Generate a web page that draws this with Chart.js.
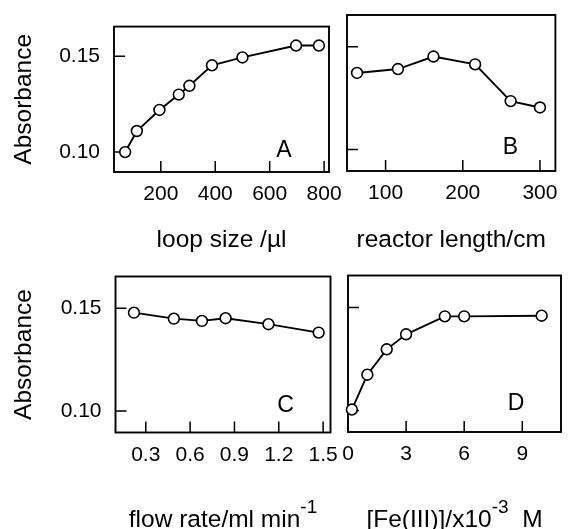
<!DOCTYPE html>
<html><head><meta charset="utf-8">
<script src="https://cdn.jsdelivr.net/npm/chart.js@4.4.1/dist/chart.umd.min.js"></script>
<style>
html,body{margin:0;padding:0;background:#fff;}
#wrap{position:relative;width:568px;height:529px;overflow:hidden;background:#fff;}
canvas{position:absolute;left:0;top:0;}
</style></head><body>
<div id="wrap">
<canvas id="cA" width="568" height="529"></canvas>
<canvas id="cB" width="568" height="529"></canvas>
<canvas id="cC" width="568" height="529"></canvas>
<canvas id="cD" width="568" height="529"></canvas>
</div>
<script>
// ---- data ----
const loopSize      = [69, 112, 195, 266, 305, 388, 500, 697, 781];
const absLoop       = [0.100, 0.111, 0.122, 0.130, 0.1346, 0.1453, 0.1494, 0.1556, 0.1556];
const reactorLength = [63, 116, 162, 216, 262, 300];
const absReactor    = [0.1373, 0.1392, 0.1453, 0.1415, 0.1236, 0.1205];
const flowRate      = [0.22, 0.49, 0.68, 0.84, 1.13, 1.47];
const absFlow       = [0.1479, 0.1450, 0.1439, 0.1452, 0.1423, 0.1382];
const feConc        = [0.2, 1.0, 2.0, 3.0, 5.0, 6.0, 10.0];
const absFe         = [0.1005, 0.1174, 0.1297, 0.1370, 0.1457, 0.1457, 0.1460];

const yTickValues = [0.10, 0.15];
const xTicksA = [200, 400, 600, 800];
const xTicksB = [100, 200, 300];
const xTicksC = [0.3, 0.6, 0.9, 1.2, 1.5];
const xTicksD = [0, 3, 6, 9];

const yTitle = 'Absorbance';
const panelLetters = ['A', 'B', 'C', 'D'];

const FONT = "'Liberation Sans', Arial, Helvetica, sans-serif";
const TICK_SIZE = 21, TITLE_SIZE = 24.5, LETTER_SIZE = 23;

function panelPlugin(cfg) {
  return {
    id: 'panel' + cfg.letter,
    beforeDatasetsDraw(chart) {
      const ctx = chart.ctx, a = chart.chartArea;
      const xs = chart.scales.x, ys = chart.scales.y;
      ctx.save();
      ctx.strokeStyle = '#000';
      ctx.lineWidth = 1.9;
      ctx.strokeRect(a.left, a.top, a.right - a.left, a.bottom - a.top);
      ctx.lineWidth = 1.5;
      ctx.beginPath();
      cfg.xTicks.forEach(v => {
        const px = xs.getPixelForValue(v);
        ctx.moveTo(px, a.bottom); ctx.lineTo(px, a.bottom - 11);
      });
      yTickValues.forEach(v => {
        const py = ys.getPixelForValue(v);
        ctx.moveTo(a.left, py); ctx.lineTo(a.left + 11, py);
      });
      ctx.stroke();
      ctx.restore();
    },
    afterDraw(chart) {
      const ctx = chart.ctx, a = chart.chartArea;
      ctx.save();
      ctx.fillStyle = '#000';
      // panel letter
      ctx.font = LETTER_SIZE + 'px ' + FONT;
      ctx.textAlign = 'center';
      ctx.textBaseline = 'alphabetic';
      ctx.fillText(cfg.letter, a.right - cfg.letterDx, a.bottom - cfg.letterDy);
      // x title with optional superscript
      const main = TITLE_SIZE + 'px ' + FONT, sup = '19px ' + FONT;
      let w = 0;
      cfg.xTitle.forEach(p => { ctx.font = p.sup ? sup : main; w += ctx.measureText(p.t).width; });
      let x = (a.left + a.right) / 2 - w / 2;
      ctx.textAlign = 'left';
      cfg.xTitle.forEach(p => {
        ctx.font = p.sup ? sup : main;
        ctx.fillText(p.t, x, cfg.xTitleBase - (p.sup ? 14 : 0));
        x += ctx.measureText(p.t).width;
      });
      // y title
      if (cfg.showY) {
        ctx.font = main;
        ctx.textAlign = 'center';
        ctx.textBaseline = 'middle';
        ctx.translate(23, (a.top + a.bottom) / 2);
        ctx.rotate(-Math.PI / 2);
        ctx.fillText(yTitle, 0, 1);
      }
      ctx.restore();
    }
  };
}

function makePanel(id, cfg) {
  const pts = cfg.xData.map((v, i) => ({ x: v, y: cfg.yData[i] }));
  const [L, T, R, B] = cfg.area;
  const xH = 529 - B, yW = L;
  return new Chart(document.getElementById(id), {
    type: 'line',
    data: { datasets: [{
      data: pts,
      borderColor: '#000', borderWidth: 1.9,
      pointRadius: 5.4, pointBorderWidth: 1.6,
      pointBackgroundColor: '#fff', pointBorderColor: '#000',
      tension: 0, clip: false
    }] },
    options: {
      responsive: false, animation: false, events: [],
      layout: { padding: { left: 0, top: T, right: 568 - R, bottom: 0 } },
      plugins: { legend: { display: false }, tooltip: { enabled: false } },
      scales: {
        x: {
          type: 'linear', min: cfg.xMin, max: cfg.xMax,
          grid: { display: false, drawTicks: false }, border: { display: false },
          ticks: { color: '#000', font: { family: FONT, size: TICK_SIZE }, padding: 10,
                   maxRotation: 0, autoSkip: false, callback: cfg.xFmt },
          afterBuildTicks: s => { s.ticks = cfg.xTicks.map(v => ({ value: v })); },
          afterFit: s => { s.height = xH; }
        },
        y: {
          type: 'linear', min: 0.0896, max: 0.1655,
          grid: { display: false, drawTicks: false }, border: { display: false },
          ticks: { display: cfg.showY, color: '#000', font: { family: FONT, size: TICK_SIZE }, padding: 14,
                   callback: v => v.toFixed(2) },
          afterBuildTicks: s => { s.ticks = yTickValues.map(v => ({ value: v })); },
          afterFit: s => { s.width = yW; }
        }
      }
    },
    plugins: [panelPlugin(cfg)]
  });
}

makePanel('cA', {
  letter: panelLetters[0], area: [114, 15, 329, 172], xData: loopSize, yData: absLoop,
  xMin: 28, xMax: 818, xTicks: xTicksA, xFmt: v => String(v), showY: true,
  letterDx: 45, letterDy: 15,
  xTitle: [{ t: 'loop size /\u00b5l' }], xTitleBase: 247
});
makePanel('cB', {
  letter: panelLetters[1], area: [347, 15, 563, 171], xData: reactorLength, yData: absReactor,
  xMin: 50, xMax: 320, xTicks: xTicksB, xFmt: v => String(v), showY: false,
  letterDx: 45, letterDy: 17,
  xTitle: [{ t: 'reactor length/cm' }], xTitleBase: 247
});
makePanel('cC', {
  letter: panelLetters[2], area: [115.5, 276.5, 330.5, 432.5], xData: flowRate, yData: absFlow,
  xMin: 0.095, xMax: 1.55, xTicks: xTicksC, xFmt: v => v.toFixed(1), showY: true,
  letterDx: 45, letterDy: 21,
  xTitle: [{ t: 'flow rate/ml min' }, { t: '-1', sup: true }], xTitleBase: 527
});
makePanel('cD', {
  letter: panelLetters[3], area: [348, 275.5, 564, 432], xData: feConc, yData: absFe,
  xMin: 0, xMax: 11, xTicks: xTicksD, xFmt: v => String(v), showY: false,
  letterDx: 45, letterDy: 22,
  xTitle: [{ t: '[Fe(III)]/x10' }, { t: '-3', sup: true }, { t: '  M' }], xTitleBase: 527
});
</script>
</body></html>
